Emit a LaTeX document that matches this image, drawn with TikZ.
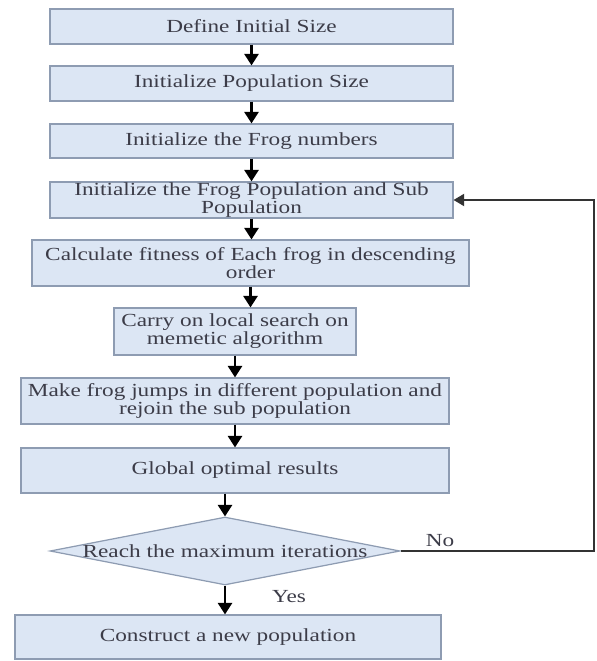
\documentclass[tikz,border=0pt]{standalone}
\usepackage{fontspec}
\setmainfont{Liberation Serif}[FakeStretch=1.26]
\usepackage{tikz}
\usetikzlibrary{shapes.geometric,arrows.meta}
\definecolor{boxfill}{HTML}{DCE6F4}
\definecolor{boxline}{HTML}{8E9CB2}
\definecolor{ink}{HTML}{3C3C48}
\tikzset{
  sz/.style 2 args={minimum width=#1*0.02cm, minimum height=#2*0.02cm},
  txt/.style={text=ink, font=\fontsize{10.5}{10.2}\selectfont},
  proc/.style={draw=boxline, fill=boxfill, line width=0.7pt, inner sep=0pt, align=center, txt},
  dec/.style={diamond, draw=boxline, fill=boxfill, line width=0.7pt, inner sep=0pt, txt},
  flow/.style={draw=black, line width=1.3pt, -{Triangle[width=8pt,length=6.5pt]}},
  back/.style={draw=black!80, line width=0.6pt, -{Triangle[width=7pt,length=6pt]}},
  lab/.style={txt},
}
\begin{document}
\begin{tikzpicture}[x=0.02cm, y=-0.02cm]
  \useasboundingbox (0,0) rectangle (596,661);
  % steps
  \node[proc,sz={403}{35}] (define) at (251.5,26.5) {Define Initial Size};
  \node[proc,sz={403}{35}] (initpop) at (251.5,83.5) {Initialize Population Size};
  \node[proc,sz={403}{34}] (initfrog) at (251.5,141) {Initialize the Frog numbers};
  \node[proc,sz={403}{36}] (initsub) at (251.5,200) {Initialize the Frog Population and Sub\\Population};
  \node[proc,sz={437}{46}] (fitness) at (250.5,263) {Calculate fitness of Each frog in descending\\order};
  \node[proc,sz={242}{47}] (local) at (235,331.5) {Carry on local search on\\memetic algorithm};
  \node[proc,sz={428}{46}] (jumps) at (235,401) {Make frog jumps in different population and\\rejoin the sub population};
  \node[proc,sz={428}{45}] (global) at (235,470.5) {Global optimal results};
  \node[dec,sz={350}{68}] (reach) at (225,551) {\makebox[0pt]{Reach the maximum iterations}};
  \node[proc,sz={426}{44}] (construct) at (228,637) {Construct a new population};
  \coordinate (edge) at (594,0);
  % arrows
  \draw[flow] (define) -- (initpop);
  \draw[flow] (initpop) -- (initfrog);
  \draw[flow] (initfrog) -- (initsub);
  \draw[flow] (initsub.south) -- (initsub.south |- fitness.north);
  \draw[flow] (fitness.south) -- (fitness.south |- local.north);
  \draw[flow] (local) -- (jumps);
  \draw[flow] (jumps) -- (global);
  \draw[flow] (reach.north |- global.south) -- (reach.north);
  \draw[flow] (reach.south) -- (reach.south |- construct.north);
  \draw[back] (reach.east) -- (edge |- reach.east) |- (initsub.east);
  \node[lab] (no) at (440,541) {No};
  \node[lab] (yes) at (289,597) {Yes};
\end{tikzpicture}
\end{document}
